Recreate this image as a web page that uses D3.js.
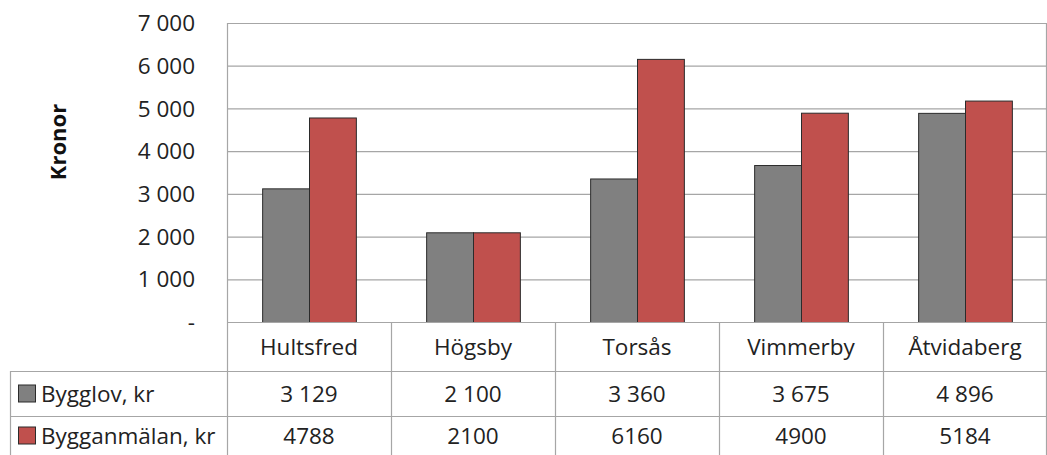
<!DOCTYPE html>
<html><head><meta charset="utf-8">
<script src="https://cdn.jsdelivr.net/npm/d3@7"></script>
<style>body{margin:0;background:#fff}svg{display:block;font-family:"Open Sans",sans-serif}</style>
</head><body>
<svg id="c" width="1047" height="455"></svg>
<script>
const categories = ["Hultsfred","Högsby","Torsås","Vimmerby","Åtvidaberg"];
const seriesNames = ["Bygglov, kr","Bygganmälan, kr"];
const bygglov = [3129, 2100, 3360, 3675, 4896];
const bygganmalan = [4788, 2100, 6160, 4900, 5184];
const bygglovLabels = ["3 129","2 100","3 360","3 675","4 896"];
const bygganmalanLabels = ["4788","2100","6160","4900","5184"];
const yTicks = [0,1000,2000,3000,4000,5000,6000,7000];
const yTickLabels = ["-","1 000","2 000","3 000","4 000","5 000","6 000","7 000"];
const colors = ["#808080","#C0504D"];

const svg = d3.select("#c");
const L = 227, R = 1047, T = 23, B = 322;
const rowY = [322, 371, 416, 455];
const tableLeft = 10;
const fs = 22.5;

const x = d3.scaleBand().domain(categories).range([L, R]);
const bw = x.bandwidth()/3.5;
const y = d3.scaleLinear().domain([0,7000]).range([B, T]);

// gridlines
svg.append("g").selectAll("line").data(yTicks.slice(1)).join("line")
  .attr("x1", L).attr("x2", R).attr("y1", d=>y(d)+0.5).attr("y2", d=>y(d)+0.5)
  .attr("stroke","#a6a6a6").attr("stroke-width",1.2);

// y tick labels
svg.append("g").selectAll("text").data(yTicks).join("text")
  .attr("x",195).attr("y",d=>y(d)).attr("dy","0.36em").attr("text-anchor","end")
  .attr("font-size",fs).attr("fill","#222").text((d,i)=>yTickLabels[i]);

// y axis title
svg.append("text").attr("transform","translate(66,142) rotate(-90)")
  .attr("text-anchor","middle").attr("font-size",22).attr("font-weight","bold")
  .attr("fill","#111").text("Kronor");

// bars
const series = [bygglov, bygganmalan];
series.forEach((vals, s) => {
  svg.append("g").selectAll("rect").data(vals).join("rect")
    .attr("x",(d,i)=>x(categories[i]) + x.bandwidth()/2 - bw + s*bw + 0.5)
    .attr("y",d=>y(d)+0.5)
    .attr("width",bw).attr("height",d=>B - y(d))
    .attr("fill",colors[s]).attr("stroke","#2b2b2b").attr("stroke-width",1);
});

// table lines
const tg = svg.append("g").attr("stroke","#a6a6a6").attr("stroke-width",1.2);
tg.append("line").attr("x1",L).attr("x2",R).attr("y1",B+0.5).attr("y2",B+0.5);
tg.append("line").attr("x1",L+0.5).attr("x2",L+0.5).attr("y1",T).attr("y2",455);
[rowY[1],rowY[2]].forEach(yy=>tg.append("line").attr("x1",tableLeft).attr("x2",R).attr("y1",yy+0.5).attr("y2",yy+0.5));
tg.append("line").attr("x1",tableLeft+0.5).attr("x2",tableLeft+0.5).attr("y1",rowY[1]).attr("y2",455);
categories.slice(1).forEach(c=>tg.append("line").attr("x1",x(c)+0.5).attr("x2",x(c)+0.5).attr("y1",B).attr("y2",455));
tg.append("line").attr("x1",R-0.5).attr("x2",R-0.5).attr("y1",T).attr("y2",455);

// category labels
svg.append("g").selectAll("text").data(categories).join("text")
  .attr("x",d=>x(d)+x.bandwidth()/2).attr("y",(rowY[0]+rowY[1])/2).attr("dy","0.36em")
  .attr("text-anchor","middle").attr("font-size",fs).attr("fill","#222").text(d=>d);

// data rows
const rowLabels = [bygglovLabels, bygganmalanLabels];
rowLabels.forEach((labs, s) => {
  const cy = (rowY[s+1]+rowY[s+2])/2;
  svg.append("g").selectAll("text").data(labs).join("text")
    .attr("x",(d,i)=>x(categories[i])+x.bandwidth()/2).attr("y",cy).attr("dy","0.36em")
    .attr("text-anchor","middle").attr("font-size",fs).attr("fill","#222").text(d=>d);
  svg.append("rect").attr("x",18.5).attr("y",cy-8.5).attr("width",17).attr("height",17)
    .attr("fill",colors[s]).attr("stroke","#2b2b2b").attr("stroke-width",1);
  svg.append("text").attr("x",41).attr("y",cy).attr("dy","0.36em")
    .attr("font-size",fs).attr("fill","#222").text(seriesNames[s]);
});
</script>
</body></html>
